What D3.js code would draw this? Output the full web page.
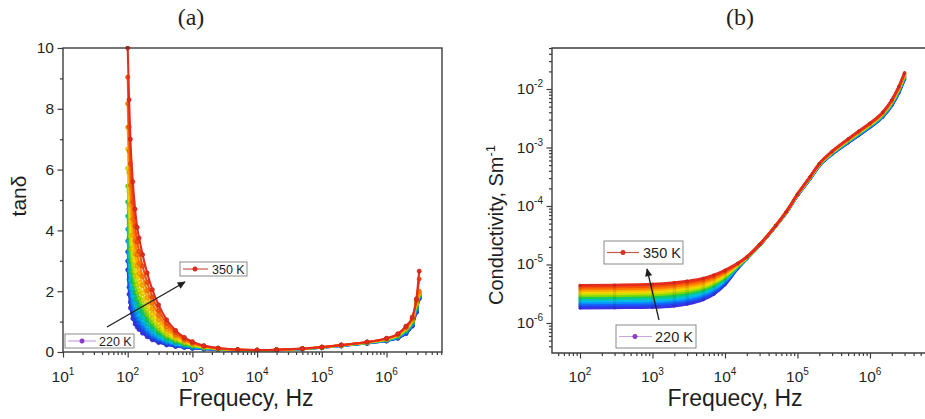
<!DOCTYPE html>
<html>
<head>
<meta charset="utf-8">
<script src="https://cdn.jsdelivr.net/npm/d3@7"></script>
<style>
  body { margin: 0; background: #fff; }
  svg { display: block; font-family: "Liberation Sans", Arial, sans-serif; }
</style>
</head>
<body>
<svg id="chart" width="925" height="419"></svg>
<script>
// ---- data -------------------------------------------------------------
// Measurement temperatures (K); one curve each.
const temperatures = [220, 230, 240, 250, 260, 270, 280, 290, 300, 310, 320, 330, 340, 350];

// (a) loss tangent: one row per frequency, one column per temperature.
const freqA = [100, 105, 110, 120, 130, 140, 150, 170, 200, 240, 300, 400, 550, 750, 1000,
               1500, 2500, 5000, 1e4, 2e4, 5e4, 1e5, 2e5, 5e5, 1e6, 1.5e6, 2e6, 2.5e6, 2.9e6, 3.2e6];
const tanDeltaRows = [
  [2.70, 2.99, 3.30, 3.65, 4.04, 4.47, 4.94, 5.46, 6.04, 6.68, 7.39, 8.17, 9.04, 10.0],
  [1.90, 2.13, 2.38, 2.67, 2.99, 3.35, 3.75, 4.20, 4.71, 5.27, 5.91, 6.61, 7.41, 8.30],
  [1.45, 1.64, 1.85, 2.08, 2.35, 2.65, 2.99, 3.38, 3.81, 4.30, 4.86, 5.48, 6.19, 7.00],
  [1.10, 1.25, 1.41, 1.60, 1.82, 2.06, 2.33, 2.64, 3.00, 3.40, 3.85, 4.36, 4.94, 5.60],
  [0.92, 1.04, 1.18, 1.34, 1.52, 1.72, 1.95, 2.21, 2.51, 2.84, 3.22, 3.65, 4.14, 4.70],
  [0.82, 0.93, 1.05, 1.19, 1.35, 1.52, 1.72, 1.95, 2.21, 2.50, 2.83, 3.20, 3.62, 4.10],
  [0.74, 0.84, 0.95, 1.08, 1.22, 1.38, 1.56, 1.77, 2.01, 2.28, 2.58, 2.92, 3.31, 3.75],
  [0.62, 0.70, 0.80, 0.91, 1.03, 1.16, 1.32, 1.50, 1.70, 1.93, 2.19, 2.48, 2.82, 3.20],
  [0.50, 0.57, 0.64, 0.73, 0.83, 0.94, 1.07, 1.22, 1.38, 1.57, 1.78, 2.02, 2.29, 2.60],
  [0.40, 0.45, 0.51, 0.58, 0.66, 0.75, 0.85, 0.97, 1.10, 1.24, 1.41, 1.60, 1.81, 2.05],
  [0.31, 0.35, 0.40, 0.45, 0.51, 0.58, 0.65, 0.74, 0.83, 0.94, 1.07, 1.21, 1.37, 1.55],
  [0.23, 0.26, 0.29, 0.33, 0.37, 0.41, 0.46, 0.52, 0.58, 0.66, 0.74, 0.83, 0.94, 1.06],
  [0.18, 0.20, 0.22, 0.25, 0.27, 0.31, 0.34, 0.38, 0.42, 0.46, 0.52, 0.57, 0.64, 0.71],
  [0.15, 0.16, 0.18, 0.20, 0.21, 0.23, 0.26, 0.28, 0.31, 0.34, 0.37, 0.40, 0.44, 0.48],
  [0.12, 0.13, 0.14, 0.15, 0.17, 0.18, 0.19, 0.21, 0.23, 0.25, 0.27, 0.29, 0.31, 0.34],
  [0.095, 0.100, 0.107, 0.114, 0.121, 0.129, 0.137, 0.146, 0.155, 0.164, 0.175, 0.186, 0.198, 0.210],
  [0.070, 0.073, 0.077, 0.081, 0.085, 0.089, 0.093, 0.098, 0.103, 0.108, 0.113, 0.118, 0.124, 0.130],
  [0.050, 0.052, 0.054, 0.056, 0.058, 0.060, 0.062, 0.064, 0.067, 0.069, 0.072, 0.074, 0.077, 0.080],
  [0.045, 0.046, 0.047, 0.048, 0.049, 0.050, 0.052, 0.053, 0.054, 0.056, 0.058, 0.060, 0.062, 0.065],
  [0.060, 0.061, 0.062, 0.063, 0.064, 0.065, 0.066, 0.067, 0.068, 0.069, 0.070, 0.072, 0.073, 0.075],
  [0.100, 0.101, 0.102, 0.102, 0.103, 0.104, 0.105, 0.105, 0.106, 0.107, 0.108, 0.108, 0.109, 0.110],
  [0.140, 0.142, 0.143, 0.145, 0.146, 0.148, 0.149, 0.151, 0.152, 0.154, 0.155, 0.157, 0.158, 0.160],
  [0.200, 0.202, 0.205, 0.207, 0.209, 0.212, 0.214, 0.216, 0.218, 0.221, 0.223, 0.225, 0.228, 0.230],
  [0.280, 0.284, 0.288, 0.292, 0.296, 0.300, 0.303, 0.307, 0.311, 0.315, 0.318, 0.322, 0.326, 0.330],
  [0.360, 0.367, 0.373, 0.380, 0.387, 0.394, 0.401, 0.408, 0.415, 0.422, 0.429, 0.436, 0.443, 0.450],
  [0.450, 0.461, 0.472, 0.484, 0.495, 0.507, 0.519, 0.530, 0.542, 0.554, 0.565, 0.577, 0.588, 0.600],
  [0.60, 0.62, 0.64, 0.66, 0.68, 0.70, 0.72, 0.73, 0.75, 0.77, 0.79, 0.81, 0.83, 0.85],
  [0.85, 0.87, 0.89, 0.91, 0.94, 0.96, 0.98, 1.00, 1.02, 1.05, 1.07, 1.09, 1.12, 1.15],
  [1.30, 1.33, 1.37, 1.40, 1.44, 1.47, 1.51, 1.54, 1.58, 1.61, 1.65, 1.68, 1.72, 1.75],
  [1.75, 1.77, 1.79, 1.80, 1.82, 1.84, 1.86, 1.88, 1.90, 1.92, 1.95, 2.00, 2.40, 2.66]
];

// (b) ac conductivity in units of 1e-6 S/m: one row per frequency, one column per temperature.
const freqB = [100, 300, 1000, 2000, 3000, 5000, 7000, 1e4, 1.5e4, 2e4, 3e4, 5e4, 7e4, 1e5,
               1.5e5, 2e5, 3e5, 5e5, 7e5, 1e6, 1.5e6, 2e6, 2.5e6, 3e6];
const sigmaMicroRows = [
  [1.80, 1.93, 2.07, 2.21, 2.37, 2.54, 2.72, 2.91, 3.12, 3.34, 3.58, 3.83, 4.11, 4.40],
  [1.82, 1.95, 2.09, 2.24, 2.40, 2.57, 2.75, 2.94, 3.15, 3.38, 3.62, 3.88, 4.15, 4.45],
  [1.85, 1.98, 2.13, 2.28, 2.45, 2.63, 2.82, 3.02, 3.24, 3.48, 3.73, 4.00, 4.29, 4.60],
  [1.95, 2.09, 2.25, 2.41, 2.59, 2.78, 2.98, 3.20, 3.44, 3.69, 3.96, 4.25, 4.56, 4.90],
  [2.10, 2.25, 2.41, 2.59, 2.78, 2.98, 3.19, 3.42, 3.67, 3.94, 4.22, 4.52, 4.85, 5.20],
  [2.50, 2.67, 2.85, 3.04, 3.24, 3.45, 3.68, 3.93, 4.19, 4.47, 4.77, 5.09, 5.43, 5.80],
  [3.10, 3.29, 3.48, 3.69, 3.91, 4.15, 4.40, 4.66, 4.94, 5.24, 5.55, 5.88, 6.23, 6.60],
  [4.50, 4.70, 4.92, 5.14, 5.37, 5.61, 5.86, 6.13, 6.41, 6.70, 7.00, 7.32, 7.65, 8.00],
  [8.50, 8.64, 8.78, 8.92, 9.07, 9.22, 9.37, 9.52, 9.68, 9.84, 10.0, 10.16, 10.33, 10.5],
  [12.5, 12.58, 12.65, 12.73, 12.80, 12.88, 12.96, 13.03, 13.11, 13.19, 13.27, 13.35, 13.42, 13.5],
  [21.0, 21.08, 21.15, 21.23, 21.31, 21.38, 21.46, 21.54, 21.62, 21.69, 21.77, 21.85, 21.92, 22.0],
  [45.0, 45.08, 45.15, 45.23, 45.31, 45.38, 45.46, 45.54, 45.62, 45.69, 45.77, 45.85, 45.92, 46.0],
  [76.0, 76.3, 76.6, 76.9, 77.2, 77.5, 77.8, 78.2, 78.5, 78.8, 79.1, 79.4, 79.7, 80.0],
  [150, 150.8, 151.5, 152.3, 153.1, 153.8, 154.6, 155.4, 156.2, 156.9, 157.7, 158.5, 159.2, 160],
  [290, 292.3, 294.6, 296.9, 299.2, 301.5, 303.8, 306.2, 308.5, 310.8, 313.1, 315.4, 317.7, 320],
  [480, 483.8, 487.7, 491.5, 495.4, 499.2, 503.1, 506.9, 510.8, 514.6, 518.5, 522.3, 526.2, 530],
  [760, 767.7, 775.4, 783.1, 790.8, 798.5, 806.2, 813.8, 821.5, 829.2, 836.9, 844.6, 852.3, 860],
  [1200, 1215, 1231, 1246, 1262, 1277, 1292, 1308, 1323, 1338, 1354, 1369, 1385, 1400],
  [1600, 1623, 1646, 1669, 1692, 1715, 1738, 1762, 1785, 1808, 1831, 1854, 1877, 1900],
  [2200, 2231, 2262, 2292, 2323, 2354, 2385, 2415, 2446, 2477, 2508, 2538, 2569, 2600],
  [3300, 3354, 3408, 3462, 3515, 3569, 3623, 3677, 3731, 3785, 3838, 3892, 3946, 4000],
  [5200, 5300, 5400, 5500, 5600, 5700, 5800, 5900, 6000, 6100, 6200, 6300, 6400, 6500],
  [8500, 8692, 8885, 9077, 9269, 9462, 9654, 9846, 10038, 10231, 10423, 10615, 10808, 11000],
  [14500, 14846, 15192, 15538, 15885, 16231, 16577, 16923, 17269, 17615, 17962, 18308, 18654, 19000]
];

// Axis ticks
const xTickExpA = [1, 2, 3, 4, 5, 6];
const yTicksA = [0, 2, 4, 6, 8, 10];
const yMinorA = [1, 3, 5, 7, 9];
const xTickExpB = [2, 3, 4, 5, 6];
const yTickExpB = [-6, -5, -4, -3, -2];

// Legend entries (lowest and highest temperature)
const legendLow = "220 K";
const legendHigh = "350 K";

// ---- drawing ----------------------------------------------------------
const svg = d3.select("#chart");
const ink = "#1f1f1f";
const frameInk = "#3c3c3c";

const palette = d3.piecewise(d3.interpolateRgb, [
  "#3d2fe0", "#1f45f5", "#0a8cff", "#00c8e8", "#00c86a", "#8fdc00",
  "#f2e200", "#ffa400", "#ff6000", "#e32b1e"
]);
const color = d3.scaleOrdinal()
  .domain(temperatures)
  .range(temperatures.map((t, i) => palette(i / (temperatures.length - 1))));

const defs = svg.append("defs");
defs.append("marker")
  .attr("id", "arrowHead").attr("viewBox", "0 0 10 10")
  .attr("refX", 9).attr("refY", 5)
  .attr("markerWidth", 10).attr("markerHeight", 8)
  .attr("markerUnits", "userSpaceOnUse").attr("orient", "auto")
  .append("path").attr("d", "M0,0.5 L10,5 L0,9.5 Z").attr("fill", ink);

function clipRect(id, x, y, w, h) {
  defs.append("clipPath").attr("id", id).append("rect")
    .attr("x", x).attr("y", y).attr("width", w).attr("height", h);
}

function logMinors(lo, hi) {
  const out = [];
  for (let e = Math.floor(Math.log10(lo)); e <= Math.ceil(Math.log10(hi)); e++) {
    for (let k = 2; k <= 9; k++) {
      const v = k * Math.pow(10, e);
      if (v >= lo && v <= hi) out.push(v);
    }
  }
  return out;
}

function tickGroup(axis, transform) {
  const g = svg.append("g").attr("transform", transform).call(axis);
  g.select(".domain").remove();
  g.selectAll(".tick line").attr("stroke", frameInk).attr("stroke-width", 1.2);
  return g;
}

function powerLabel(sel, exp, supSize, supDy) {
  sel.text("10");
  sel.append("tspan").attr("font-size", supSize).attr("dy", supDy).text(exp);
}

function seriesFrom(freqs, rows, scaleFactor) {
  return temperatures.map((T, j) => ({
    T,
    pts: freqs.map((f, i) => ({ f, v: rows[i][j] * scaleFactor }))
  }));
}

function drawSeries(group, series, x, y, lineWidth, r) {
  const line = d3.line().x(d => x(d.f)).y(d => y(d.v)).curve(d3.curveMonotoneX);
  series.forEach(s => {
    const c = color(s.T);
    const g = group.append("g");
    g.append("path").datum(s.pts)
      .attr("d", line).attr("fill", "none")
      .attr("stroke", c).attr("stroke-width", lineWidth)
      .attr("stroke-linejoin", "round");
    if (r > 0) {
      g.selectAll("circle").data(s.pts).join("circle")
        .attr("cx", d => x(d.f)).attr("cy", d => y(d.v)).attr("r", r)
        .attr("fill", c).attr("stroke", d3.color(c).darker(0.7)).attr("stroke-width", 0.6);
    }
  });
}

function legendBox(x, y, w, h, label, c, lineC, lineX0, lineX1, markX, textX, fontSize) {
  const g = svg.append("g");
  g.append("rect").attr("x", x).attr("y", y).attr("width", w).attr("height", h)
    .attr("fill", "#fff").attr("stroke", "#8a8a8a").attr("stroke-width", 1);
  const cy = y + h / 2;
  g.append("line").attr("x1", lineX0).attr("x2", lineX1).attr("y1", cy).attr("y2", cy)
    .attr("stroke", lineC).attr("stroke-width", 1.2);
  g.append("circle").attr("cx", markX).attr("cy", cy).attr("r", 2.2)
    .attr("fill", c).attr("stroke", d3.color(c).darker(0.6)).attr("stroke-width", 0.6);
  g.append("text").attr("x", textX).attr("y", cy).attr("dy", "0.36em")
    .attr("font-size", fontSize).attr("fill", ink).text(label);
}

function arrow(x1, y1, x2, y2) {
  svg.append("line").attr("x1", x1).attr("y1", y1).attr("x2", x2).attr("y2", y2)
    .attr("stroke", ink).attr("stroke-width", 1.3).attr("marker-end", "url(#arrowHead)");
}

// ---------- panel (a): tan(delta) ----------
const A = { left: 63, right: 442, top: 48, bottom: 352 };
const xA = d3.scaleLog().domain([10, 7.2e6]).range([A.left, A.right]);
const yA = d3.scaleLinear().domain([0, 10]).range([A.bottom, A.top]);
clipRect("clipA", A.left, A.top - 2, A.right - A.left, A.bottom - A.top + 2);

const plotA = svg.append("g").attr("clip-path", "url(#clipA)");
drawSeries(plotA, seriesFrom(freqA, tanDeltaRows, 1), xA, yA, 2.1, 2.1);

svg.append("rect").attr("x", A.left).attr("y", A.top)
  .attr("width", A.right - A.left).attr("height", A.bottom - A.top)
  .attr("fill", "none").attr("stroke", frameInk).attr("stroke-width", 1.4);

tickGroup(d3.axisBottom(xA).tickValues(logMinors(10, 7.2e6)).tickSize(3).tickFormat(""),
  `translate(0,${A.bottom})`);
tickGroup(d3.axisBottom(xA).tickValues(xTickExpA.map(e => Math.pow(10, e))).tickSize(5.5).tickFormat(""),
  `translate(0,${A.bottom})`);
tickGroup(d3.axisLeft(yA).tickValues(yMinorA).tickSize(3).tickFormat(""),
  `translate(${A.left},0)`);
tickGroup(d3.axisLeft(yA).tickValues(yTicksA).tickSize(5.5).tickFormat(""),
  `translate(${A.left},0)`);

svg.append("g").selectAll("text").data(xTickExpA).join("text")
  .attr("x", d => xA(Math.pow(10, d))).attr("y", 382)
  .attr("text-anchor", "middle").attr("font-size", 15.5).attr("fill", ink)
  .each(function (d) { powerLabel(d3.select(this), d, 10, -7); });

svg.append("g").selectAll("text").data(yTicksA).join("text")
  .attr("x", A.left - 9).attr("y", d => yA(d)).attr("dy", "0.35em")
  .attr("text-anchor", "end").attr("font-size", 15.5).attr("fill", ink)
  .text(d => d);

svg.append("text").attr("x", 246).attr("y", 406).attr("text-anchor", "middle")
  .attr("font-size", 23).attr("fill", ink).text("Frequecy, Hz");
svg.append("text").attr("transform", "translate(26,196) rotate(-90)")
  .attr("text-anchor", "middle").attr("font-size", 21).attr("fill", ink).text("tanδ");
svg.append("text").attr("x", 191).attr("y", 25).attr("text-anchor", "middle")
  .attr("font-family", "'Liberation Serif', 'Times New Roman', serif")
  .attr("font-size", 24).attr("fill", ink).text("(a)");

arrow(107, 327, 185, 282);
legendBox(180, 262, 67, 14, legendHigh, color(350), "#c85a50", 183, 208, 195, 212, 12.5);
legendBox(65, 334, 69, 14, legendLow, "#8e3ad6", "#c9a6e0", 68, 96, 82, 99, 12.5);

// ---------- panel (b): conductivity ----------
const B = { left: 552, right: 930, top: 48, bottom: 353 };
const xB = d3.scaleLog().domain([Math.pow(10, 1.614), Math.pow(10, 6.828)]).range([B.left, B.right]);
const yB = d3.scaleLog().domain([Math.pow(10, -6.513), Math.pow(10, -1.299)]).range([B.bottom, B.top]);
clipRect("clipB", B.left, B.top, B.right - B.left, B.bottom - B.top);

const plotB = svg.append("g").attr("clip-path", "url(#clipB)");
drawSeries(plotB, seriesFrom(freqB, sigmaMicroRows, 1e-6), xB, yB, 2.8, 1.3);

svg.append("path")
  .attr("d", `M${B.right},${B.top} H${B.left} V${B.bottom} H${B.right}`)
  .attr("fill", "none").attr("stroke", frameInk).attr("stroke-width", 1.4);

tickGroup(d3.axisBottom(xB).tickValues(logMinors(xB.domain()[0], xB.domain()[1])).tickSize(3).tickFormat(""),
  `translate(0,${B.bottom})`);
tickGroup(d3.axisBottom(xB).tickValues(xTickExpB.map(e => Math.pow(10, e))).tickSize(5.5).tickFormat(""),
  `translate(0,${B.bottom})`);
tickGroup(d3.axisLeft(yB).tickValues(logMinors(yB.domain()[0], yB.domain()[1])).tickSize(3).tickFormat(""),
  `translate(${B.left},0)`);
tickGroup(d3.axisLeft(yB).tickValues(yTickExpB.map(e => Math.pow(10, e))).tickSize(5.5).tickFormat(""),
  `translate(${B.left},0)`);

svg.append("g").selectAll("text").data(xTickExpB).join("text")
  .attr("x", d => xB(Math.pow(10, d))).attr("y", 382)
  .attr("text-anchor", "middle").attr("font-size", 15.5).attr("fill", ink)
  .each(function (d) { powerLabel(d3.select(this), d, 10, -7); });

svg.append("g").selectAll("text").data(yTickExpB).join("text")
  .attr("x", B.left - 9).attr("y", d => yB(Math.pow(10, d)) + 5)
  .attr("text-anchor", "end").attr("font-size", 15.5).attr("fill", ink)
  .each(function (d) { powerLabel(d3.select(this), "-" + Math.abs(d), 10, -7); });

svg.append("text").attr("x", 735).attr("y", 406).attr("text-anchor", "middle")
  .attr("font-size", 23).attr("fill", ink).text("Frequecy, Hz");
const condLabel = svg.append("text").attr("transform", "translate(503,225) rotate(-90)")
  .attr("text-anchor", "middle").attr("font-size", 20).attr("fill", ink).text("Conductivity, Sm");
condLabel.append("tspan").attr("font-size", 13).attr("dy", -8).text("-1");
svg.append("text").attr("x", 740).attr("y", 25).attr("text-anchor", "middle")
  .attr("font-family", "'Liberation Serif', 'Times New Roman', serif")
  .attr("font-size", 24).attr("fill", ink).text("(b)");

arrow(659, 320, 647, 269);
legendBox(604, 241, 79, 23, legendHigh, color(350), "#c85a50", 607, 639, 623, 643, 14.5);
legendBox(616, 325, 80, 23, legendLow, "#8e3ad6", "#c9a6e0", 619, 652, 635, 655, 14.5);
</script>
</body>
</html>
